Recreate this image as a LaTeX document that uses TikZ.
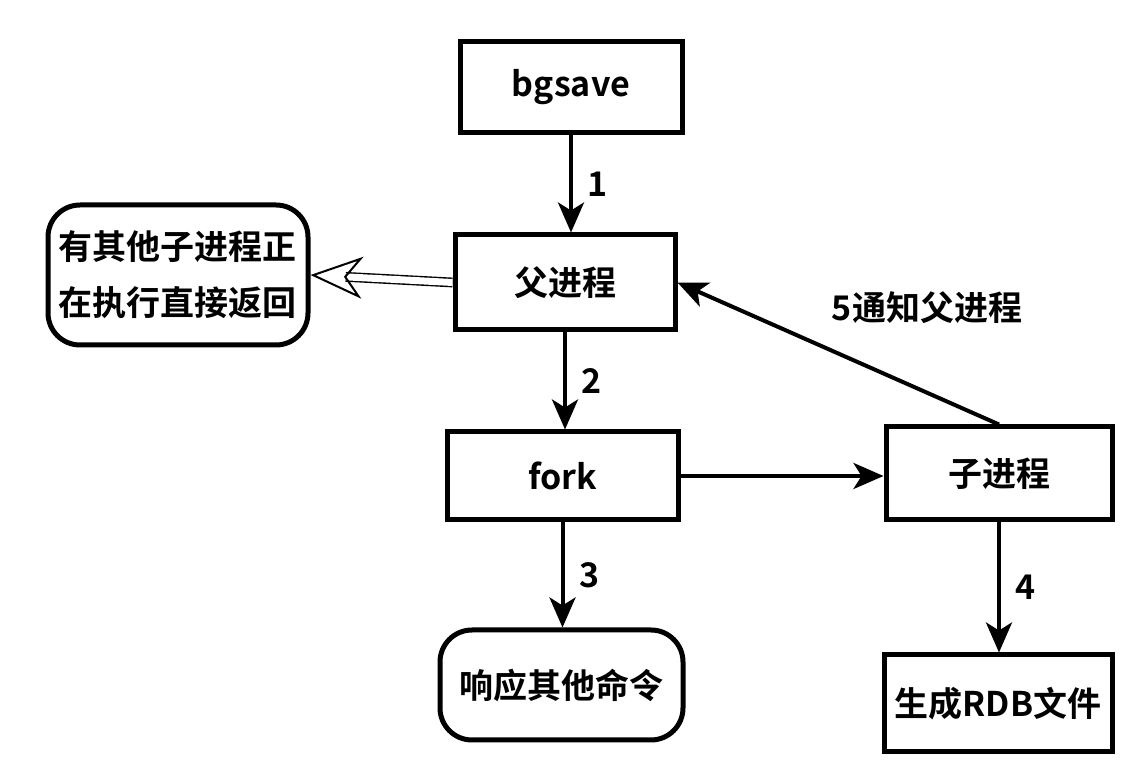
\documentclass[tikz,border=0pt]{standalone}
\usepackage{fontspec}
\setmainfont{Noto Sans CJK SC}[BoldFont={Noto Sans CJK SC Bold}]
\usetikzlibrary{arrows.meta}

\begin{document}
\begin{tikzpicture}[x=0.5pt,y=-0.5pt,
  font=\fontsize{17pt}{28pt}\selectfont\bfseries,
  box/.style={draw,line width=2.5pt,inner sep=0pt},
  roundbox/.style={box,rounded corners=16pt},
  link/.style={line width=2pt,-{Stealth[length=15pt,width=13pt,inset=4pt]}},
  openlink/.style={double,line width=0.7pt,double distance=3.5pt,-{Stealth[open,length=26pt,width=21pt,inset=8pt,line width=1pt]}},
  num/.style={right=4pt}]
	\useasboundingbox (0,0) rectangle (1132,764);
	%% boxes
	\node[box,minimum width=111pt,minimum height=45.5pt] (bgsave) at (571,87.5) {bgsave};
	\node[box,minimum width=110pt,minimum height=47.5pt] (parent) at (565,282.5) {父进程};
	\node[box,minimum width=115.5pt,minimum height=44pt] (fork) at (562.5,476) {fork};
	\node[box,minimum width=113pt,minimum height=46.5pt] (child) at (999,473.5) {子进程};
	\node[roundbox,minimum width=130pt,minimum height=70pt,align=left] (busy) at (178,275) {有其他子进程正\\在执行直接返回};
	\node[roundbox,minimum width=121.5pt,minimum height=55pt] (reply) at (561.5,685) {响应其他命令};
	\node[box,minimum width=114pt,minimum height=48.5pt] (rdb) at (998,703.5) {生成RDB文件};
	%% arrows
	\draw[link] (bgsave.south) -- (bgsave.south |- parent.north) node[midway,num] {1};
	\draw[link] (parent.south) -- (parent.south |- fork.north) node[midway,num] {2};
	\draw[link] (fork.south) -- (fork.south |- reply.north) node[midway,num] {3};
	\draw[link] (fork.east) -- (fork.east -| child.west);
	\draw[link] (child.south) -- (child.south |- rdb.north) node[midway,num] {4};
	\draw[link] (child.north) -- (parent.east);
	\node (note) at (927,308) {5通知父进程};
	\draw[openlink] (parent.west) -- (busy.east);
\end{tikzpicture}
\end{document}
